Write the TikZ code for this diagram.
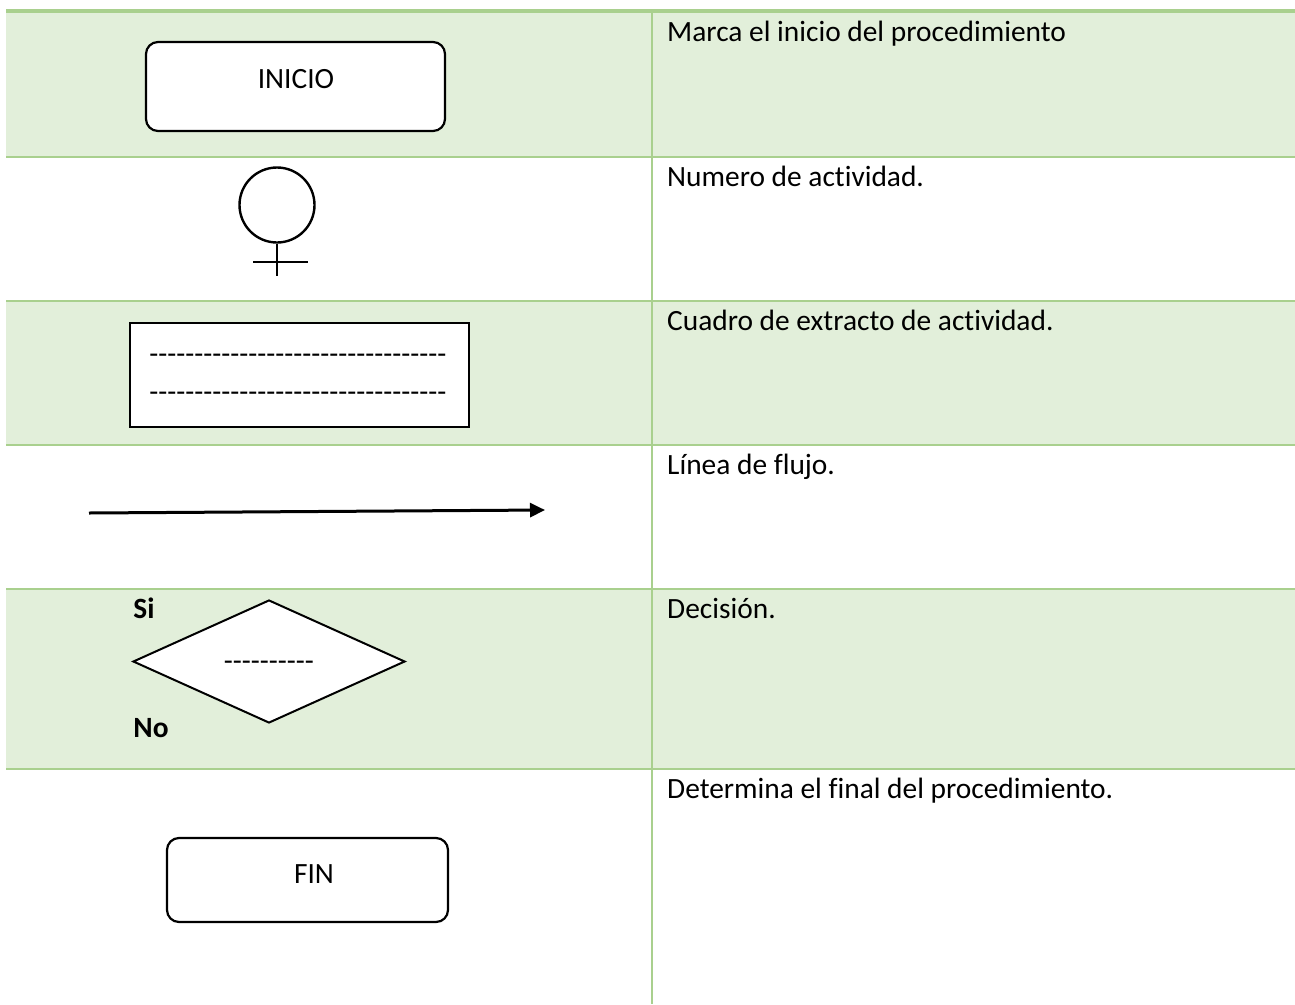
\documentclass[tikz,border=0pt]{standalone}
\usepackage{fontspec}
\setmainfont{Carlito}[Ligatures={TeXOff,NoCommon}]
\usetikzlibrary{shapes.geometric,arrows.meta}
\definecolor{rowgreen}{HTML}{E2EFDA}
\definecolor{linegreen}{HTML}{A9D08E}
\newcount\hyphcnt
\newcommand\hyphrow[1]{\hyphcnt=0 \loop-\advance\hyphcnt by 1 \ifnum\hyphcnt<#1 \repeat}
\begin{document}
\begin{tikzpicture}[x=1pt,y=-1pt,
  font=\fontsize{29.4}{35}\selectfont,
  rowfill/.style={fill=rowgreen,draw=none},
  gridline/.style={draw=linegreen,line width=1.5pt},
  termbox/.style={draw,line width=2.2pt,rounded corners=12pt,fill=white,inner sep=0pt},
  txt/.style={anchor=base,inner sep=0pt},
  desc/.style={anchor=base west,inner sep=0pt}]
\useasboundingbox (0,0) rectangle (1295,1004);
\fill[white] (0,0) rectangle (1295,1004);
% table
\fill[rowfill] (6,12) rectangle (1295,157);
\fill[rowfill] (6,301) rectangle (1295,445);
\fill[rowfill] (6,589) rectangle (1295,769);
\foreach \yy in {157,301,445,589,769} \draw[gridline] (6,\yy) -- (1295,\yy);
\draw[gridline] (652,12) -- (652,1004);
\draw[draw=linegreen,line width=4pt] (6,11) -- (1295,11);
% row 1
\node[termbox,minimum width=299pt,minimum height=89pt] (inicio) at (295.5,86.5) {};
\node[txt] (tinicio) at (296,88) {INICIO};
\node[desc] (d1) at (667,41) {Marca el inicio del procedimiento};
% row 2
\node[draw,circle,line width=2.4pt,minimum size=75pt,inner sep=0pt] (num) at (277,205) {};
\coordinate (numend) at (277,276);
\coordinate (crossl) at (253,262);
\coordinate (crossr) at (308,262);
\draw[line width=1.2pt] (num.south) -- (numend);
\draw[line width=1.2pt] (crossl) -- (crossr);
\node[desc] (d2) at (667,186) {Numero de actividad.};
% row 3
\node[draw,line width=2.4pt,fill=white,minimum width=339pt,minimum height=104pt,inner sep=0pt] (extracto) at (299.5,375) {};
\node[txt] (dash1) at (298,363) {\hyphrow{33}};
\node[txt] (dash2) at (298,401) {\hyphrow{33}};
\node[desc] (d3) at (667,330) {Cuadro de extracto de actividad.};
% row 4
\coordinate (flowa) at (89,513);
\coordinate (flowb) at (545,510);
\draw[line width=3pt,-{Triangle[length=15pt,width=14pt]}] (flowa) -- (flowb);
\node[desc] (d4) at (667,474) {Línea de flujo.};
% row 5
\node[draw,diamond,line width=2pt,fill=white,minimum width=272pt,minimum height=123pt,aspect=2.2,inner sep=0pt] (dec) at (269,661.5) {};
\node[txt] (tdec) at (269,670) {\hyphrow{10}};
\node[txt,font=\fontsize{29.4}{35}\selectfont\bfseries] (si) at (144,618) {Si};
\node[txt,font=\fontsize{29.4}{35}\selectfont\bfseries] (no) at (151,737) {No};
\node[desc] (d5) at (667,618) {Decisión.};
% row 6
\node[termbox,minimum width=281pt,minimum height=84pt] (fin) at (307.5,880) {};
\node[txt] (tfin) at (314,883) {FIN};
\node[desc] (d6) at (667,798) {Determina el final del procedimiento.};
\end{tikzpicture}
\end{document}
